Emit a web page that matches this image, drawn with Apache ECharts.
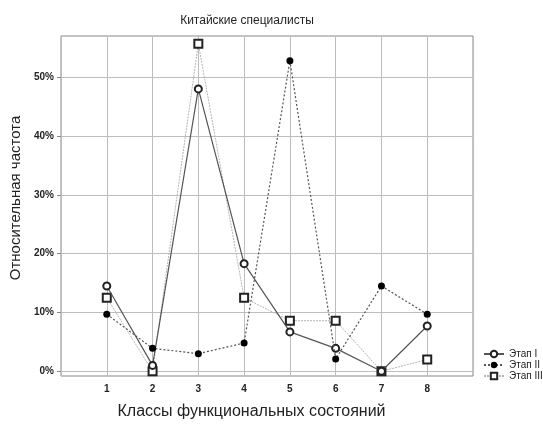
<!DOCTYPE html>
<html>
<head>
<meta charset="utf-8">
<script src="https://cdn.jsdelivr.net/npm/echarts@6/dist/echarts.min.js"></script>
<style>
  html, body { margin: 0; padding: 0; background: #fff; }
  #chart { width: 543px; height: 425px; }
</style>
</head>
<body>
<div id="chart"></div>
<script>
// классы состояний (ось X)
const classes = [1, 2, 3, 4, 5, 6, 7, 8]
// деления оси Y, %
const yTicks = [0, 10, 20, 30, 40, 50]
// относительная частота, %
const stage1 = [14.5, 1.0, 48.0, 18.3, 6.7, 3.9, 0, 7.7]
const stage2 = [9.7, 3.9, 3.0, 4.8, 52.8, 2.1, 14.5, 9.7]
const stage3 = [12.5, 0, 55.7, 12.5, 8.6, 8.6, 0, 2.0]
const seriesNames = ['Этап I', 'Этап II', 'Этап III']

const pairs = arr => classes.map((c, i) => [c, arr[i]])

const chart = echarts.init(document.getElementById('chart'))
const font = 'Liberation Sans, Arial, sans-serif'

chart.setOption({
  animation: false,
  title: {
    text: 'Китайские специалисты',
    left: 242,
    textAlign: 'center',
    top: 10,
    textStyle: { fontSize: 12, fontWeight: 'normal', color: '#222', fontFamily: font }
  },
  grid: {
    left: 59, right: 70, top: 36, bottom: 46,
    show: true, borderColor: '#888', borderWidth: 1
  },
  legend: {
    orient: 'vertical',
    left: 478,
    top: 344,
    itemGap: 1,
    itemWidth: 20,
    itemHeight: 8,
    data: seriesNames,
    textStyle: { fontSize: 10, color: '#222', fontFamily: font }
  },
  xAxis: {
    type: 'value',
    min: 0, max: 9, interval: 1,
    name: 'Классы функциональных состояний',
    nameLocation: 'middle',
    nameGap: 28,
    nameTextStyle: { fontSize: 16, color: '#222', fontFamily: font, padding: [0, 31, 0, 0] },
    axisLine: { show: false },
    axisTick: { show: false },
    axisLabel: {
      fontSize: 10, fontWeight: 'bold', color: '#222', fontFamily: font, margin: 8,
      formatter: v => (v >= 1 && v <= 8 ? String(v) : '')
    },
    splitLine: { show: true, lineStyle: { color: '#bdbdbd', width: 1 } }
  },
  yAxis: {
    type: 'value',
    min: -0.8, max: 57,
    splitNumber: 5,
    name: 'Относительная частота',
    nameLocation: 'middle',
    nameGap: 38,
    nameTextStyle: { fontSize: 15, color: '#222', fontFamily: font, padding: [0, 0, 0, 16] },
    axisLine: { show: false },
    axisTick: { show: true, length: 4, lineStyle: { color: '#888' }, customValues: yTicks },
    axisLabel: {
      fontSize: 10, fontWeight: 'bold', color: '#222', fontFamily: font, margin: 7,
      customValues: yTicks,
      formatter: v => Math.round(v) + '%'
    },
    splitLine: { show: true, lineStyle: { color: '#bdbdbd', width: 1 } }
  },
  series: [
    {
      name: seriesNames[0],
      type: 'line',
      data: pairs(stage1),
      symbol: 'emptyCircle',
      symbolSize: 7,
      z: 3,
      lineStyle: { color: '#555', width: 1.2, type: 'solid' },
      itemStyle: { color: '#222', borderWidth: 1.3 }
    },
    {
      name: seriesNames[1],
      type: 'line',
      data: pairs(stage2),
      symbol: 'circle',
      symbolSize: 7,
      z: 4,
      lineStyle: { color: '#555', width: 1.2, type: [2, 2] },
      itemStyle: { color: '#000' }
    },
    {
      name: seriesNames[2],
      type: 'line',
      data: pairs(stage3),
      symbol: 'emptyRect',
      symbolSize: 8,
      z: 2,
      lineStyle: { color: '#b5b5b5', width: 1, type: [2, 1] },
      itemStyle: { color: '#222', borderWidth: 1.3 }
    }
  ]
})
</script>
</body>
</html>
